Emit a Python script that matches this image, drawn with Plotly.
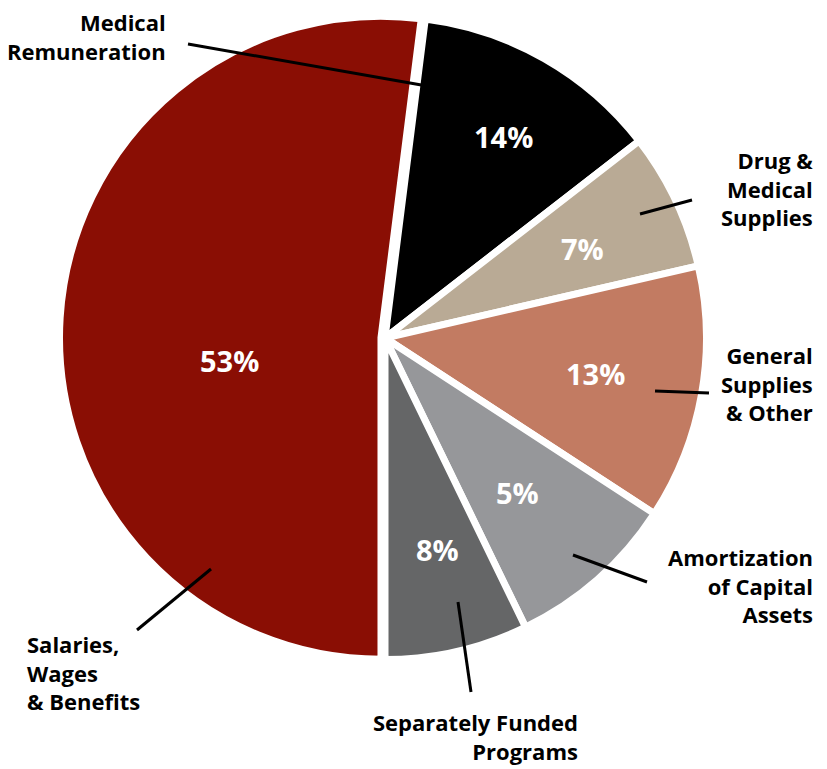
import plotly.graph_objects as go

# Data
categories = ["Salaries, Wages & Benefits", "Medical Remuneration", "Drug & Medical Supplies",
              "General Supplies & Other", "Amortization of Capital Assets", "Separately Funded Programs"]
# slice sizes as drawn (share of the circle, %)
slice_sizes = [52.0, 12.5, 6.9, 12.8, 8.6, 7.2]
# percentages as printed on the slices
pct_labels = ["53%", "14%", "7%", "13%", "5%", "8%"]
# outside label texts
outside_labels = ["Salaries,<br>Wages<br>& Benefits", "Medical<br>Remuneration", "Drug &<br>Medical<br>Supplies",
                  "General<br>Supplies<br>& Other", "Amortization<br>of Capital<br>Assets",
                  "Separately Funded<br>Programs"]
colors = ["#8A0E04", "#000000", "#B9AA95", "#C27B62", "#96979A", "#656667"]

W, H = 827, 769
FONT = "Open Sans"


def px(x):
    return x / W


def py(y):
    return 1 - y / H


fig = go.Figure(go.Pie(
    labels=categories,
    values=slice_sizes,
    sort=False,
    direction="clockwise",
    rotation=180,
    marker=dict(colors=colors, line=dict(color="white", width=7)),
    pull=[0.0125, 0, 0, 0, 0, 0],
    textinfo="none",
    hoverinfo="label+value",
    showlegend=False,
    domain=dict(x=[px(385 - 325.5), px(385 + 325.5)], y=[py(338 + 325.5), py(338 - 325.5)]),
))

# percentage labels inside slices (layout positions)
pct_pos = [(230, 360), (503, 137), (582, 249), (595, 374), (517, 492), (437, 549)]
annotations = []
for t, (x, y) in zip(pct_labels, pct_pos):
    annotations.append(dict(x=px(x), y=py(y), xref="paper", yref="paper", text=t, showarrow=False,
                            font=dict(family=FONT, size=29, color="white", weight="bold"),
                            xanchor="center", yanchor="middle"))

# outside labels (layout positions)
lab_pos = [(25, 672, "left"), (168, 37, "right"), (815, 189, "right"),
           (815, 384, "right"), (815, 585, "right"), (580, 736, "right")]
for t, (x, y, a) in zip(outside_labels, lab_pos):
    annotations.append(dict(x=px(x), y=py(y), xref="paper", yref="paper", text=t, showarrow=False,
                            align=a, xanchor=a, yanchor="middle",
                            font=dict(family=FONT, size=22, color="black", weight="bold")))

# leader lines (layout positions)
leaders = [((211, 569), (137, 630)), ((427, 86), (188, 44)), ((640, 214), (692, 200)),
           ((655, 391), (709, 393)), ((573, 555), (647, 582)), ((458, 602), (471, 692))]
shapes = []
for (x0, y0), (x1, y1) in leaders:
    shapes.append(dict(type="line", xref="paper", yref="paper", x0=px(x0), y0=py(y0), x1=px(x1), y1=py(y1),
                       line=dict(color="black", width=3)))

fig.update_layout(width=W, height=H, margin=dict(l=0, r=0, t=0, b=0),
                  paper_bgcolor="white", plot_bgcolor="white",
                  annotations=annotations, shapes=shapes)

fig.write_html("out.html")
